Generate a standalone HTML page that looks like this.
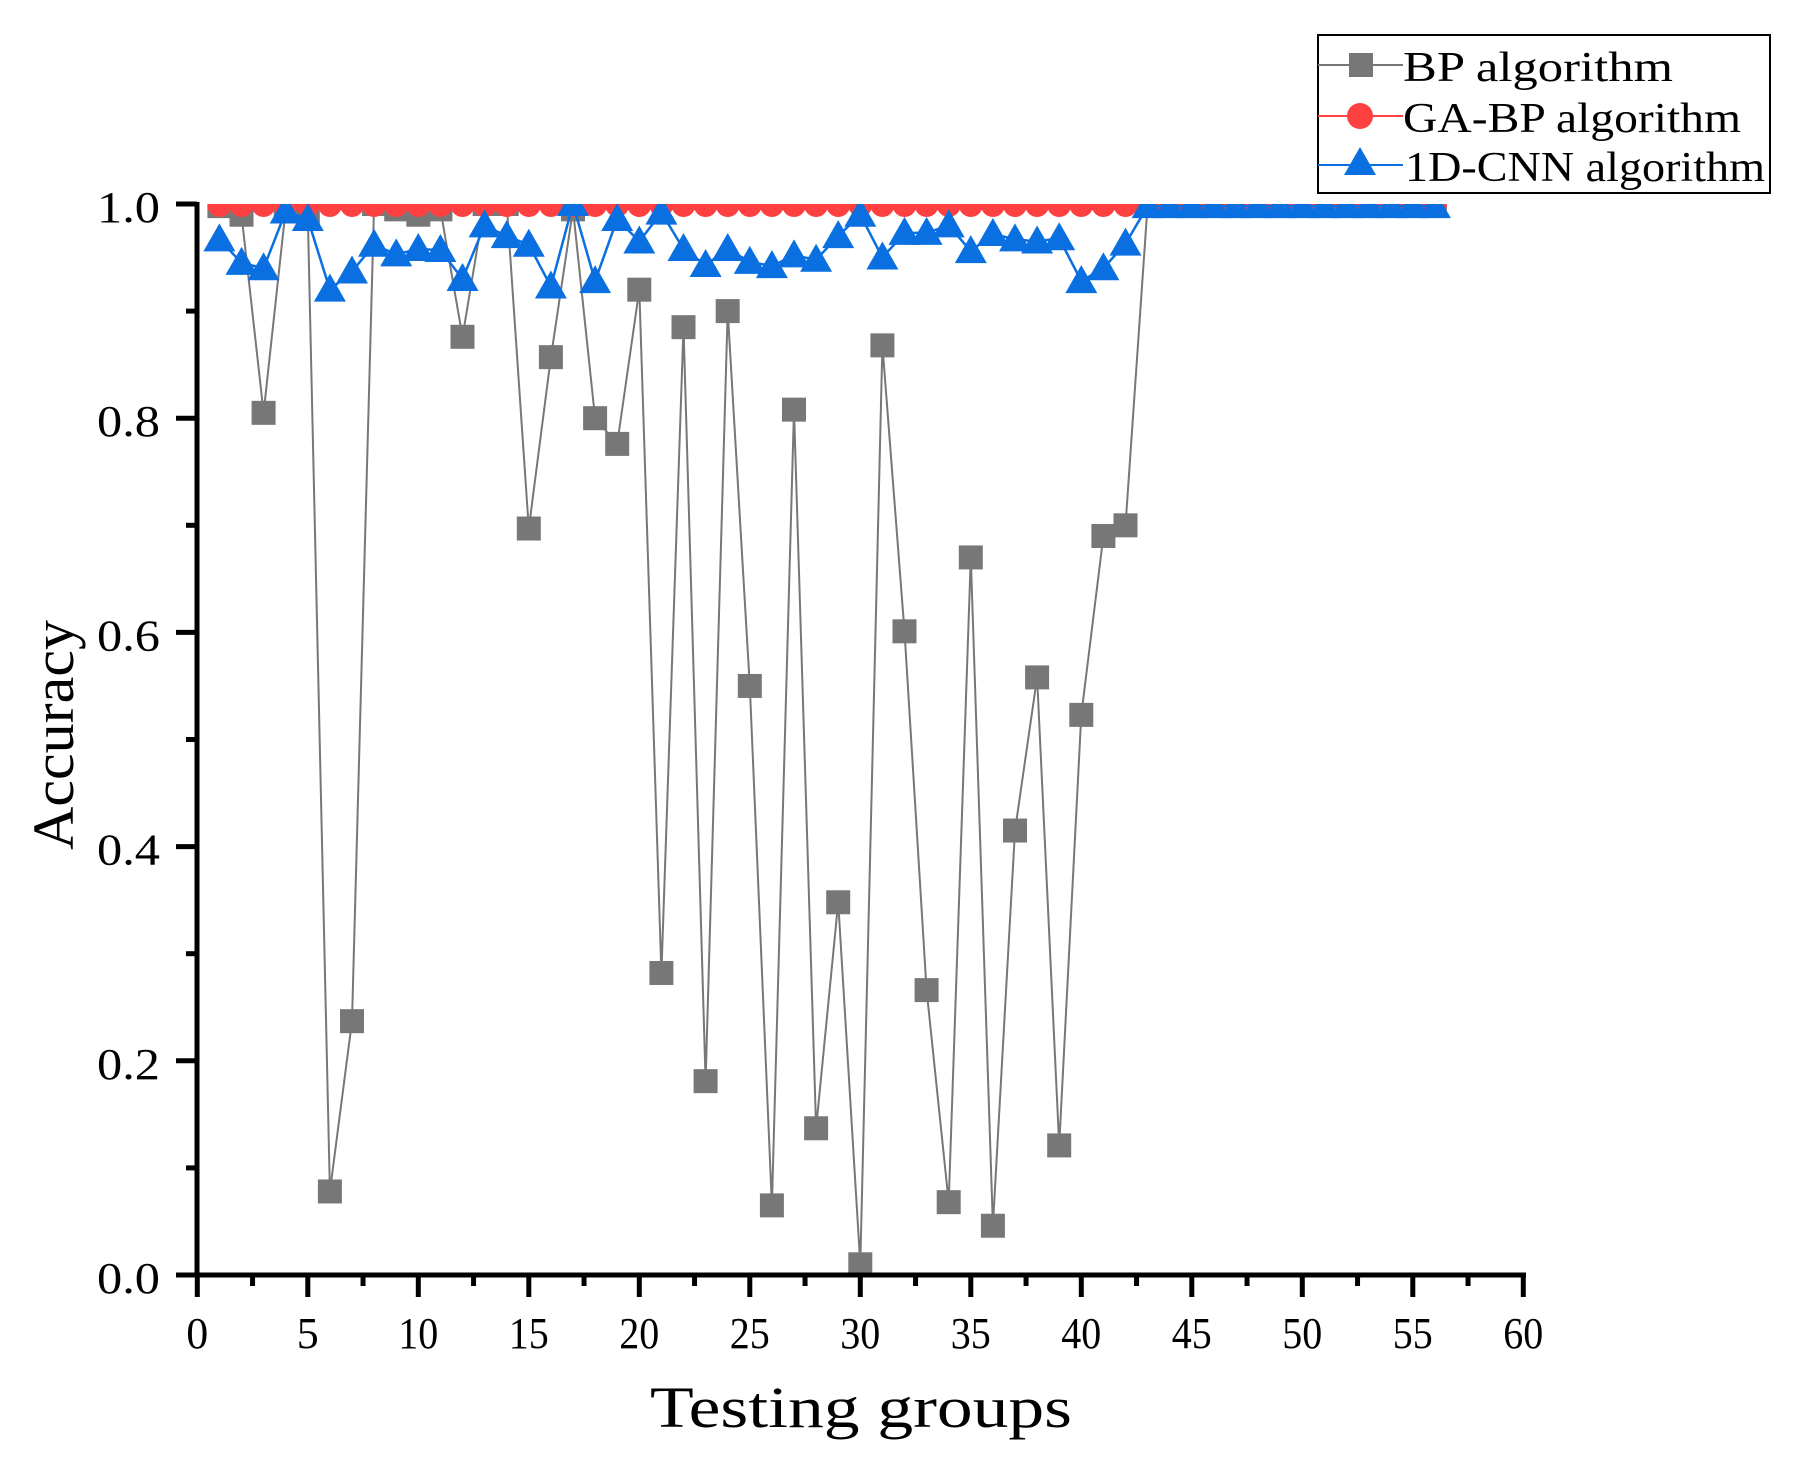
<!DOCTYPE html>
<html><head><meta charset="utf-8"><style>html,body{margin:0;padding:0;background:#fff}svg{display:block}</style></head>
<body>
<svg id="s" width="1801" height="1468" viewBox="0 0 1801 1468" xmlns="http://www.w3.org/2000/svg" font-family="'Liberation Serif','Noto Serif CJK SC',serif">
<defs><clipPath id="cp"><rect x="197" y="204" width="1330" height="1075"/></clipPath></defs>
<rect width="1801" height="1468" fill="#fff"/>
<g id="data" clip-path="url(#cp)"></g>
<g stroke="#000" stroke-width="5" fill="none">
<line x1="197" y1="202" x2="197" y2="1277"/>
<line x1="194" y1="1275" x2="1526" y2="1275"/>
</g>
<g id="ticks"></g>
<text x="650" y="1427" font-size="58" textLength="422" lengthAdjust="spacingAndGlyphs">Testing groups</text>
<text transform="translate(73,850) rotate(-90)" font-size="58" textLength="230" lengthAdjust="spacingAndGlyphs">Accuracy</text>
<g>
<rect x="1318" y="35" width="452" height="158" fill="#fff" stroke="#000" stroke-width="2"/>
<line x1="1318" y1="65" x2="1403" y2="65" stroke="#777" stroke-width="2"/>
<rect x="1349" y="53" width="24" height="24" fill="#777"/>
<text x="1403" y="81" font-size="42" textLength="270" lengthAdjust="spacingAndGlyphs">BP algorithm</text>
<line x1="1318" y1="116" x2="1403" y2="116" stroke="#ff4040" stroke-width="2"/>
<circle cx="1360" cy="116" r="13" fill="#ff4040"/>
<text x="1403" y="132" font-size="42" textLength="338" lengthAdjust="spacingAndGlyphs">GA-BP algorithm</text>
<line x1="1318" y1="165" x2="1403" y2="165" stroke="#0a6fe0" stroke-width="2"/>
<polygon points="1360,147 1376,175 1344,175" fill="#0a6fe0"/>
<text x="1405" y="181" font-size="42" textLength="360" lengthAdjust="spacingAndGlyphs">1D-CNN algorithm</text>
</g>
</svg>
<script>
var NS="http://www.w3.org/2000/svg";
function X(v){return 197.3+v*22.1}
function Y(v){return 1275-v*1071}
function el(p,t,a,txt){var e=document.createElementNS(NS,t);for(var k in a)e.setAttribute(k,a[k]);if(txt)e.textContent=txt;p.appendChild(e);return e}
var tk=document.getElementById('ticks');
for(var i=0;i<=12;i++){var x=X(i*5);el(tk,'line',{x1:x,y1:1275,x2:x,y2:1297,stroke:'#000','stroke-width':5});
 var s=String(i*5);var a={x:x,y:1348,'font-size':44,'text-anchor':'middle'};if(s.length==2){a.textLength=40;a.lengthAdjust='spacingAndGlyphs';}
 el(tk,'text',a,s);
 if(i<12){var xm=X(i*5+2.5);el(tk,'line',{x1:xm,y1:1275,x2:xm,y2:1286,stroke:'#000','stroke-width':5});}}
for(var j=0;j<=5;j++){var y=Y(j*0.2);el(tk,'line',{x1:176,y1:y,x2:197,y2:y,stroke:'#000','stroke-width':5});
 el(tk,'text',{x:97,y:y+18,'font-size':44,textLength:63,lengthAdjust:'spacingAndGlyphs'},(j*0.2).toFixed(1));
 if(j<5){var ym=Y(j*0.2+0.1);el(tk,'line',{x1:186,y1:ym,x2:197,y2:ym,stroke:'#000','stroke-width':5});}}
var bp=[0.998,0.99,0.805,0.995,0.99,0.078,0.237,1,0.995,0.99,0.995,0.876,1,1,0.697,0.857,0.995,0.80,0.776,0.92,0.282,0.885,0.181,0.90,0.55,0.065,0.808,0.137,0.348,0.01,0.868,0.601,0.266,0.068,0.67,0.046,0.415,0.558,0.121,0.523,0.69,0.70];
while(bp.length<56)bp.push(0.999);
var cnn=[0.967,0.945,0.94,0.993,0.986,0.92,0.937,0.962,0.953,0.958,0.957,0.93,0.98,0.97,0.962,0.923,1.0,0.928,0.986,0.965,0.992,0.958,0.943,0.958,0.946,0.942,0.952,0.948,0.97,0.99,0.95,0.973,0.973,0.98,0.956,0.972,0.967,0.965,0.968,0.928,0.94,0.963];
while(cnn.length<56)cnn.push(0.998);
var d=document.getElementById('data');
function pts(a){return a.map(function(v,i){return X(i+1)+','+Y(v)}).join(' ')}
el(d,'polyline',{points:pts(bp),fill:'none',stroke:'#777','stroke-width':2});
bp.forEach(function(v,i){el(d,'rect',{x:X(i+1)-12,y:Y(v)-12,width:24,height:24,fill:'#777'})});
var ga=[];for(var i=0;i<56;i++)ga.push(1);
el(d,'polyline',{points:pts(ga),fill:'none',stroke:'#ff4040','stroke-width':2});
ga.forEach(function(v,i){el(d,'circle',{cx:X(i+1),cy:Y(v)+1,r:12,fill:'#ff4040'})});
el(d,'polyline',{points:pts(cnn),fill:'none',stroke:'#0a6fe0','stroke-width':2.5});
cnn.forEach(function(v,i){var x=X(i+1),y=Y(v);el(d,'polygon',{points:x+','+(y-16)+' '+(x+16)+','+(y+12)+' '+(x-16)+','+(y+12),fill:'#0a6fe0'})});
</script>
</body></html>
